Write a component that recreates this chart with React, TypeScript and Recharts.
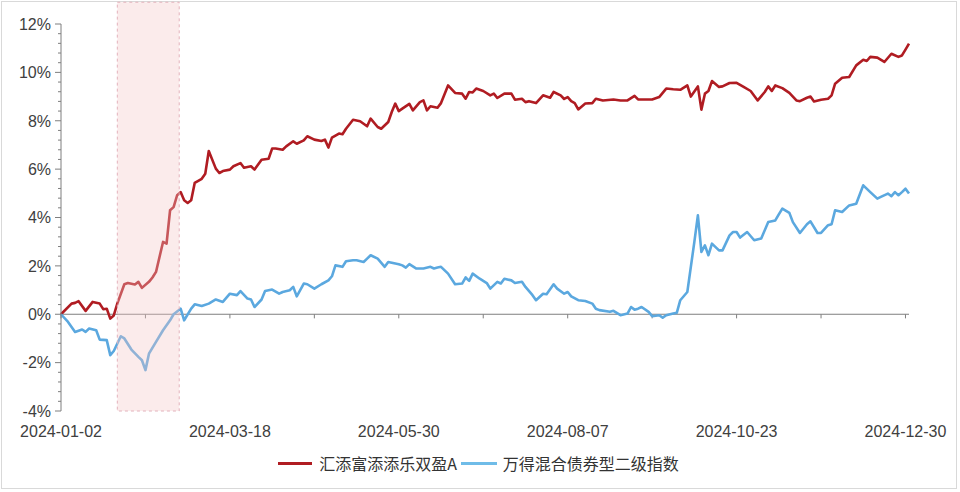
import React from 'react';
import { LineChart, Line, XAxis, YAxis, ReferenceArea, ReferenceLine, Legend } from 'recharts';

// ---- labels ----
const fundName = '汇添富添添乐双盈A';
const indexName = '万得混合债券型二级指数';

// trading-day index of each labelled x tick, and its date label
const tickDays = [0, 48, 96, 144, 192, 240];
const tickLabels = ['2024-01-02', '2024-03-18', '2024-05-30', '2024-08-07', '2024-10-23', '2024-12-30'];
const minorTickDays = [0, 24, 48, 72, 96, 120, 144, 168, 192, 216, 240];
const lastDay = 241;

const yMajorTicks = [-4, -2, 0, 2, 4, 6, 8, 10, 12];

// highlighted period (trading-day index range)
const highlightDays = [16, 33.6];

// ---- series: [trading-day index, cumulative return %] ----
const fundPoints: [number, number][] = [
  [0, 0], [3, 0.44], [4, 0.47], [5, 0.54], [7, 0.14], [9, 0.51], [11, 0.44], [12, 0.21], [13, 0.23], [14, -0.18],
  [15, -0.05], [16, 0.44], [18, 1.24], [19, 1.29], [21, 1.23], [22, 1.34], [23, 1.09], [25, 1.34], [26, 1.52], [27, 1.75],
  [29, 2.99], [30, 2.92], [31, 4.3], [32, 4.43], [33, 4.92], [34, 5.05], [35, 4.71], [36, 4.6], [37, 4.71], [38, 5.43],
  [40, 5.6], [41, 5.81], [42, 6.75], [44, 6.02], [45, 5.84], [46, 5.92], [48, 5.98], [49, 6.12], [51, 6.25], [52, 6.06],
  [54, 6.12], [55, 5.98], [57, 6.39], [59, 6.43], [60, 6.85], [61, 6.85], [63, 6.8], [64, 6.94], [66, 7.15], [67, 7.05],
  [69, 7.19], [70, 7.36], [72, 7.22], [74, 7.16], [75, 7.22], [76, 6.89], [77, 7.3], [79, 7.47], [80, 7.44], [81, 7.67],
  [83, 8.04], [85, 7.98], [87, 7.77], [88, 8.09], [90, 7.74], [91, 7.67], [93, 7.95], [94, 8.36], [95, 8.71], [96, 8.4],
  [97, 8.5], [99, 8.7], [100, 8.43], [102, 8.77], [103, 8.84], [104, 8.43], [105, 8.6], [107, 8.54], [108, 8.73], [110, 9.46],
  [112, 9.15], [114, 9.12], [115, 8.91], [116, 9.19], [117, 9.17], [118, 9.33], [120, 9.23], [122, 9.05], [123, 9.12], [124, 8.94],
  [126, 9.12], [128, 9.12], [129, 8.87], [131, 8.91], [132, 8.77], [133, 8.81], [135, 8.73], [137, 9.05], [139, 8.95], [140, 9.19],
  [142, 9.05], [143, 8.9], [144, 8.98], [145, 8.81], [146, 8.73], [147, 8.47], [149, 8.71], [151, 8.73], [152, 8.91], [154, 8.84],
  [157, 8.88], [159, 8.84], [161, 8.84], [163, 9.03], [164, 8.88], [168, 8.88], [170, 8.98], [172, 9.33], [174, 9.3], [176, 9.28],
  [178, 9.46], [179, 9.0], [181, 9.42], [182, 8.46], [183, 9.12], [184, 9.23], [185, 9.64], [187, 9.4], [188, 9.42], [190, 9.56],
  [192, 9.57], [194, 9.4], [196, 9.23], [198, 8.84], [200, 9.19], [201, 9.42], [202, 9.23], [203, 9.46], [205, 9.35], [207, 9.15],
  [209, 8.84], [210, 8.81], [212, 8.95], [213, 9.0], [214, 8.8], [216, 8.87], [218, 8.91], [219, 9.05], [220, 9.53], [222, 9.78],
  [224, 9.81], [226, 10.29], [228, 10.52], [229, 10.47], [230, 10.64], [232, 10.61], [234, 10.43], [236, 10.77], [238, 10.64], [239, 10.7],
  [240, 10.94], [241, 11.19],
];

const indexPoints: [number, number][] = [
  [0, 0], [2, -0.32], [4, -0.73], [6, -0.63], [7, -0.73], [8, -0.59], [10, -0.66], [11, -1.05], [13, -1.07], [14, -1.69],
  [15, -1.52], [17, -0.91], [18, -1.0], [20, -1.46], [22, -1.76], [23, -1.9], [24, -2.31], [25, -1.63], [27, -1.14], [29, -0.66],
  [31, -0.25], [32, 0], [34, 0.23], [35, -0.25], [37, 0.23], [38, 0.41], [40, 0.34], [42, 0.44], [44, 0.61], [46, 0.51],
  [48, 0.85], [50, 0.79], [51, 0.96], [53, 0.65], [54, 0.61], [55, 0.3], [57, 0.61], [58, 0.96], [60, 1.02], [62, 0.85],
  [63, 0.92], [65, 0.99], [66, 1.13], [67, 0.74], [69, 1.27], [70, 1.24], [72, 1.06], [74, 1.24], [76, 1.4], [77, 1.57],
  [78, 2.02], [80, 1.96], [81, 2.19], [83, 2.23], [84, 2.23], [86, 2.16], [87, 2.3], [88, 2.44], [90, 2.3], [92, 1.96],
  [93, 2.16], [95, 2.1], [96, 2.07], [97, 2.02], [98, 1.93], [99, 2.07], [101, 1.89], [103, 1.89], [105, 1.96], [106, 1.89],
  [107, 1.93], [108, 1.96], [110, 1.68], [112, 1.24], [114, 1.27], [115, 1.52], [116, 1.38], [117, 1.68], [119, 1.47], [121, 1.29],
  [122, 1.06], [124, 1.34], [125, 1.27], [126, 1.47], [128, 1.4], [129, 1.29], [131, 1.34], [132, 1.13], [134, 0.79], [135, 0.58],
  [137, 0.85], [138, 0.83], [140, 1.24], [141, 1.06], [143, 0.85], [144, 0.92], [145, 0.74], [147, 0.58], [149, 0.55], [151, 0.44],
  [152, 0.23], [153, 0.17], [156, 0.1], [157, 0.14], [159, -0.04], [161, 0.03], [162, 0.3], [163, 0.19], [164, 0.23], [165, 0.3],
  [167, 0.1], [168, -0.08], [170, -0.04], [171, -0.14], [172, -0.04], [174, 0.03], [175, 0.06], [176, 0.58], [178, 0.92], [179, 1.96],
  [180, 2.99], [181, 4.09], [182, 2.58], [183, 2.85], [184, 2.44], [185, 2.92], [187, 2.64], [188, 2.64], [190, 3.26], [191, 3.4],
  [192, 3.4], [193, 3.17], [195, 3.4], [197, 3.06], [199, 3.13], [201, 3.81], [203, 3.88], [204, 4.13], [205, 4.37], [207, 4.19],
  [208, 3.81], [210, 3.36], [212, 3.72], [213, 3.84], [215, 3.36], [216, 3.36], [218, 3.68], [219, 3.72], [220, 4.3], [222, 4.23],
  [224, 4.5], [226, 4.57], [228, 5.33], [230, 5.05], [232, 4.78], [233, 4.85], [235, 4.99], [236, 4.88], [237, 5.05], [238, 4.92],
  [239, 5.05], [240, 5.19], [241, 4.99],
];

// ---- derived tables for the library ----
const fundData = fundPoints.map(([day, value]) => ({ day, value }));
const indexData = indexPoints.map(([day, value]) => ({ day, value }));

const yAllTicks: number[] = [];
yMajorTicks.forEach((t, i) => {
  if (i === yMajorTicks.length - 1) {
    yAllTicks.push(t);
    return;
  }
  const step = (yMajorTicks[i + 1] - t) / 5;
  for (let k = 0; k < 5; k++) yAllTicks.push(Math.round((t + k * step) * 100) / 100);
});

const RED = '#B01C22';
const BLUE = '#5BA8DF';
const AXIS = '#7F7F7F';
const TEXT = '#404040';
const LATIN = '"Liberation Sans", Arial, sans-serif';
const CJK = '"Noto Sans CJK SC", "Liberation Sans", sans-serif';

const YTick = (props: any) => {
  const { x, y, payload } = props;
  const v = payload.value as number;
  const major = yMajorTicks.includes(v);
  return (
    <g>
      <line x1={x - (major ? 6 : 3)} x2={x} y1={y} y2={y} stroke={AXIS} strokeWidth={1} />
      {major && (
        <text x={x - 10} y={y} dy="0.36em" textAnchor="end" fontSize={16} fontFamily={LATIN} fill={TEXT}>
          {`${v}%`}
        </text>
      )}
    </g>
  );
};

const XTick = (props: any) => {
  const { x, y, payload } = props;
  const idx = tickDays.indexOf(payload.value);
  return (
    <text x={x} y={y} dy="0.8em" textAnchor="middle" fontSize={16} fontFamily={LATIN} fill={TEXT}>
      {idx >= 0 ? tickLabels[idx] : ''}
    </text>
  );
};

const renderLegend = () => (
  <div
    style={{
      display: 'flex',
      justifyContent: 'center',
      alignItems: 'center',
      height: 22,
      fontFamily: CJK,
      fontSize: 16,
      color: '#333333',
      paddingLeft: 48,
    }}
  >
    <span style={{ display: 'inline-block', width: 34, height: 3, background: RED, marginRight: 7 }} />
    <span style={{ marginRight: 4 }}>{fundName}</span>
    <span style={{ display: 'inline-block', width: 36, height: 3, background: '#6FBCE8', marginRight: 6 }} />
    <span>{indexName}</span>
  </div>
);

export default function App() {
  return (
    <div
      style={{
        position: 'absolute',
        left: 0,
        top: 0,
        width: 960,
        height: 492,
        background: '#ffffff',
      }}
    >
      <div
        style={{
          position: 'absolute',
          left: 1,
          top: 1,
          width: 954,
          height: 486,
          border: '1px solid #D9D9D9',
        }}
      />
      <div style={{ position: 'absolute', left: 0, top: 0 }}>
        <LineChart
          width={960}
          height={492}
          margin={{ top: 24, right: 51, bottom: 18, left: 0 }}
          style={{ fontFamily: LATIN }}
        >
          <XAxis
            dataKey="day"
            type="number"
            domain={[0, lastDay]}
            ticks={tickDays}
            interval={0}
            axisLine={false}
            tickLine={false}
            tickSize={0}
            tickMargin={13}
            height={41}
            tick={<XTick />}
            allowDuplicatedCategory={false}
          />
          <YAxis
            type="number"
            domain={[-4, 12]}
            ticks={yAllTicks}
            interval={0}
            width={61}
            axisLine={{ stroke: AXIS, strokeWidth: 1 }}
            tickLine={false}
            tickSize={0}
            tickMargin={0}
            tick={<YTick />}
            allowDataOverflow
          />
          <ReferenceLine y={0} stroke={AXIS} strokeWidth={1} />
          {minorTickDays.map((d) => (
            <ReferenceLine
              key={`xt-${d}`}
              segment={[
                { x: d, y: 0 },
                { x: d, y: -0.17 },
              ]}
              stroke={AXIS}
              strokeWidth={1}
            />
          ))}
          <Line
            data={fundData}
            dataKey="value"
            name={fundName}
            stroke={RED}
            strokeWidth={2.6}
            dot={false}
            activeDot={false}
            isAnimationActive={false}
            strokeLinejoin="round"
          />
          <Line
            data={indexData}
            dataKey="value"
            name={indexName}
            stroke={BLUE}
            strokeWidth={2.6}
            dot={false}
            activeDot={false}
            isAnimationActive={false}
            strokeLinejoin="round"
          />
          <ReferenceArea
            x1={highlightDays[0]}
            x2={highlightDays[1]}
            y1={-4}
            y2={12.9}
            ifOverflow="visible"
            fill="#F4C6C6"
            fillOpacity={0.35}
            stroke="#E3B2BC"
            strokeDasharray="3 3"
            strokeWidth={1}
            zIndex={1000}
          />
          <Legend verticalAlign="bottom" align="center" content={renderLegend} />
        </LineChart>
      </div>
    </div>
  );
}
